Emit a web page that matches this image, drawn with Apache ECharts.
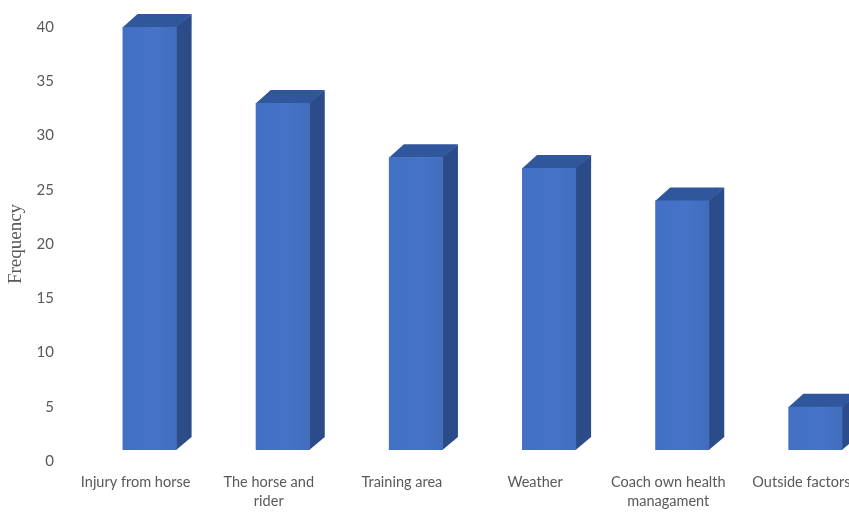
<!DOCTYPE html>
<html>
<head>
<meta charset="utf-8">
<script src="https://cdn.jsdelivr.net/npm/echarts@6/dist/echarts.min.js"></script>
<style>
html,body{margin:0;padding:0;background:#fff;}
#chart{width:849px;height:512px;}
</style>
</head>
<body>
<div id="chart"></div>
<script>
var categories = ['Injury from horse', 'The horse and\nrider', 'Training area', 'Weather', 'Coach own health\nmanagament', 'Outside factors'];
var frequency = [40, 33, 28, 27, 24, 5];
var yTicks = [0, 5, 10, 15, 20, 25, 30, 35, 40];

var chart = echarts.init(document.getElementById('chart'), null, {renderer: 'canvas'});

function renderBar(params, api) {
  var idx = api.value(0);
  var val = api.value(1);
  var base = api.coord([idx, 0]);
  var top = api.coord([idx, val]);
  var band = api.size([1, 0])[0];
  var x0 = base[0] - band * 0.098;
  var w = band * 0.406;
  var x1 = x0 + w;
  var yB = base[1] - 11;
  var yT = top[1];
  var dx = 15, dy = 13;
  return {
    type: 'group',
    children: [
      {type: 'polygon', shape: {points: [[x1 - 0.5, yT], [x1 + dx, yT - dy], [x1 + dx, yB - dy], [x1 - 0.5, yB]]},
        style: {fill: '#2B4C88'}},
      {type: 'polygon', shape: {points: [[x0, yT + 0.5], [x1, yT + 0.5], [x1 + dx, yT - dy], [x0 + dx, yT - dy]]},
        style: {fill: '#30569C'}},
      {type: 'rect', shape: {x: x0, y: yT, width: w, height: yB - yT},
        style: {fill: new echarts.graphic.LinearGradient(0, 0, 1, 0, [
          {offset: 0, color: '#4270C4'}, {offset: 0.6, color: '#4673C7'}, {offset: 1, color: '#416DBD'}])}}
    ]
  };
}

chart.setOption({
  animation: false,
  backgroundColor: '#ffffff',
  grid: {left: 69, right: -19, top: 27, bottom: 51, containLabel: false, outerBoundsMode: 'none'},
  xAxis: {
    type: 'category',
    data: categories,
    axisLine: {show: false},
    axisTick: {show: false},
    splitLine: {show: false},
    axisLabel: {
      interval: 0, margin: 12, color: '#595959',
      fontFamily: 'Lato', fontSize: 14.5, lineHeight: 19, hideOverlap: false
    }
  },
  yAxis: {
    type: 'value',
    min: yTicks[0], max: yTicks[yTicks.length - 1], interval: 5,
    axisLine: {show: false},
    axisTick: {show: false},
    splitLine: {show: false},
    axisLabel: {margin: 15, color: '#595959', fontFamily: 'Lato', fontSize: 15},
    name: 'Frequency',
    nameLocation: 'middle',
    nameGap: 31,
    nameRotate: 90,
    nameTextStyle: {fontFamily: 'Liberation Serif', fontSize: 19, color: '#595959'}
  },
  series: [{
    type: 'custom',
    renderItem: renderBar,
    clip: false,
    data: frequency.map(function (v, i) { return [i, v]; }),
    encode: {x: 0, y: 1}
  }]
});
</script>
</body>
</html>
